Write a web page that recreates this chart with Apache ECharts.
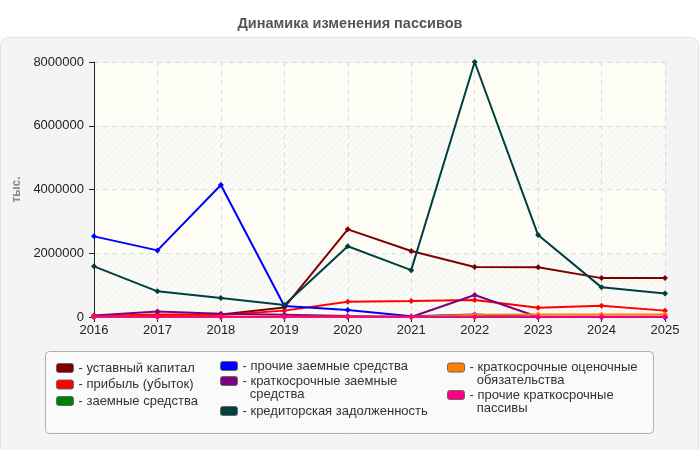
<!DOCTYPE html>
<html>
<head>
    <meta charset="utf-8" />
    <title>Динамика изменения пассивов</title>
    <script src="https://cdn.jsdelivr.net/npm/echarts@6/dist/echarts.min.js"></script>
    <style>
        html, body { margin: 0; padding: 0; background: #fff; }
    </style>
</head>
<body>
    <div id="main" style="width: 700px;height:450px;"></div>

    <script type="text/javascript">
        // годы
        var years = ['2016', '2017', '2018', '2019', '2020', '2021', '2022', '2023', '2024', '2025'];

        // ряды (тыс.)
        var ustavKapital   = [10000, 60000, 80000, 300000, 2750000, 2070000, 1570000, 1560000, 1220000, 1220000];
        var pribyl         = [30000, 80000, 60000, 200000, 480000, 500000, 530000, 290000, 355000, 200000];
        var zaemnye        = [0, 0, 0, 0, 0, 0, 0, 0, 0, 0];
        var prochieZaemnye = [2530000, 2090000, 4140000, 345000, 220000, 20000, 80000, 0, 0, 0];
        var kratkZaemnye   = [50000, 170000, 100000, 70000, 30000, 0, 690000, 0, 0, 0];
        var kreditorka     = [1590000, 805000, 595000, 375000, 2220000, 1470000, 8000000, 2570000, 930000, 740000];
        var ocenochnye     = [10000, 10000, 10000, 10000, 10000, 10000, 70000, 80000, 80000, 80000];
        var prochieKratk   = [5000, 5000, 5000, 5000, 5000, 5000, 5000, 5000, 5000, 5000];

        var yTicks = [0, 2000000, 4000000, 6000000, 8000000];

        var names = [
            'уставный капитал', 'прибыль (убыток)', 'заемные средства',
            'прочие заемные средства', 'краткосрочные заемные средства', 'кредиторская задолженность',
            'краткосрочные оценочные обязательства', 'прочие краткосрочные пассивы'
        ];
        // как подписи переносятся в легенде
        var legendLines = [
            ['уставный капитал'], ['прибыль (убыток)'], ['заемные средства'],
            ['прочие заемные средства'], ['краткосрочные заемные', 'средства'], ['кредиторская задолженность'],
            ['краткосрочные оценочные', 'обязательства'], ['прочие краткосрочные', 'пассивы']
        ];
        var colors = ['#800000', '#ff0000', '#008000', '#0000ff', '#800080', '#004040', '#ff8000', '#ff0080'];
        var seriesData = [ustavKapital, pribyl, zaemnye, prochieZaemnye, kratkZaemnye, kreditorka, ocenochnye, prochieKratk];

        // штриховка фона
        var hatch = document.createElement('canvas');
        hatch.width = 6; hatch.height = 6;
        var hc = hatch.getContext('2d');
        hc.fillStyle = '#fbfbf8';
        hc.fillRect(0, 0, 6, 6);
        hc.strokeStyle = '#eeeeec';
        hc.lineWidth = 1;
        hc.beginPath();
        hc.moveTo(0, 6); hc.lineTo(6, 0);
        hc.moveTo(-1, 1); hc.lineTo(1, -1);
        hc.moveTo(5, 7); hc.lineTo(7, 5);
        hc.stroke();

        var myChart = echarts.init(document.getElementById('main'));

        var series = seriesData.map(function (d, i) {
            return {
                name: names[i],
                type: 'line',
                data: d,
                symbol: 'diamond',
                symbolSize: 6,
                lineStyle: { width: 2, color: colors[i] },
                itemStyle: { color: colors[i] },
                z: 2 + i
            };
        });

        // по одной легенде на пункт, чтобы значок стоял у первой строки
        var legendPos = [[56, 368], [56, 384.5], [56, 401], [220, 366], [220, 381], [220, 411], [447, 367.5], [447, 395]];
        var LH = 13;
        var legends = legendPos.map(function (p, i) {
            var lines = legendLines[i];
            var two = lines.length > 1;
            return {
                left: p[0],
                top: two ? p[1] - 19.5 : p[1] - 6.5,
                padding: 0,
                data: [names[i]],
                icon: 'roundRect',
                itemWidth: 17,
                itemHeight: 9,
                formatter: function () {
                    return two ? '\n- ' + lines[0] + '\n  ' + lines[1] : '- ' + lines[0];
                },
                itemStyle: { borderColor: '#666', borderWidth: 1 },
                textStyle: { fontFamily: 'Liberation Sans', fontSize: 13, color: '#333', lineHeight: LH },
                selectedMode: false
            };
        });

        var option = {
            backgroundColor: '#fff',
            animation: false,
            color: colors,
            title: {
                text: 'Динамика изменения пассивов',
                left: 'center',
                top: 11,
                textStyle: { fontFamily: 'Liberation Sans', fontSize: 14.5, fontWeight: 'bold', color: '#555' }
            },
            graphic: [
                {
                    type: 'rect',
                    shape: { x: 0.5, y: 37.5, width: 698, height: 420, r: 8 },
                    style: { fill: '#f4f4f4', stroke: '#e2e2e2', lineWidth: 1 },
                    z: -10, silent: true
                },
                {
                    type: 'rect',
                    shape: { x: 45.5, y: 351.5, width: 608, height: 82, r: 4 },
                    style: { fill: '#fafafa', stroke: '#b0b0b0', lineWidth: 1 },
                    z: -9, silent: true
                }
            ],
            legend: legends,
            grid: {
                left: 94,
                right: 35,
                top: 62,
                bottom: 133,
                show: true,
                backgroundColor: '#fdfdf8',
                borderWidth: 0
            },
            xAxis: {
                type: 'category',
                data: years,
                boundaryGap: false,
                axisLine: { lineStyle: { color: '#222', width: 1 } },
                axisTick: { show: true, alignWithLabel: true, lineStyle: { color: '#222' } },
                axisLabel: { fontFamily: 'Liberation Sans', fontSize: 13, color: '#222', margin: 7 },
                splitLine: { show: true, lineStyle: { color: '#dcdcdc', type: [5, 4] } }
            },
            yAxis: {
                type: 'value',
                min: yTicks[0],
                max: yTicks[yTicks.length - 1],
                interval: 2000000,
                name: 'тыс.',
                nameLocation: 'middle',
                nameGap: 64,
                nameRotate: 90,
                nameTextStyle: { fontFamily: 'Liberation Sans', fontSize: 12, fontWeight: 'bold', color: '#888' },
                axisLine: { show: true, lineStyle: { color: '#222', width: 1 } },
                axisTick: { show: true, lineStyle: { color: '#222' } },
                axisLabel: {
                    fontFamily: 'Liberation Sans', fontSize: 13, color: '#222', margin: 10,
                    formatter: function (v) { return String(v); }
                },
                splitLine: { show: true, lineStyle: { color: '#dcdcdc', type: [5, 4] } },
                splitArea: {
                    show: true,
                    areaStyle: { color: [{ image: hatch, repeat: 'repeat' }, '#fdfdf6'] }
                }
            },
            series: series
        };

        myChart.setOption(option);
    </script>
</body>
</html>
